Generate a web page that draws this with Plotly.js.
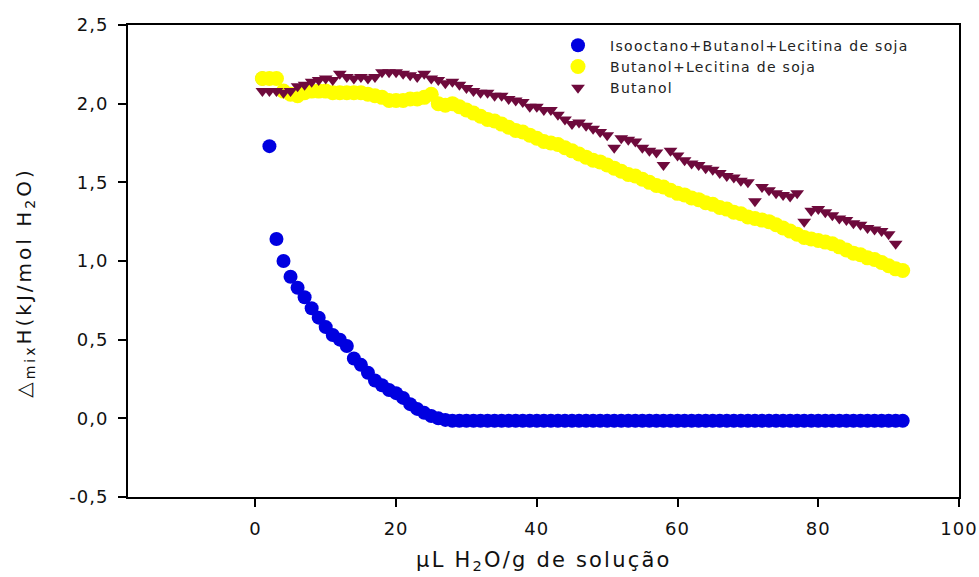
<!DOCTYPE html>
<html>
<head>
<meta charset="utf-8">
<script src="https://cdn.plot.ly/plotly-3.0.1.min.js"></script>
<style>
html,body{margin:0;padding:0;background:#fff;}
#chart{width:979px;height:577px;}
.legendtext{letter-spacing:1.3px;}
#chart .xtick text, #chart .ytick text{letter-spacing:1px;}
#chart .annotation-text{letter-spacing:2.2px;}
#chart .ytitlelike .annotation-text{letter-spacing:3px;}
</style>
</head>
<body>
<div id="chart"></div>
<script>
// x positions (µL H2O / g de solução)
const xBlue = [1,2,3,4,5,6,7,8,9,10,11,12,13,14,15,16,17,18,19,20,21,22,23,24,25,26,27,28,29,30,31,32,33,34,35,36,37,38,39,40,41,42,43,44,45,46,47,48,49,50,51,52,53,54,55,56,57,58,59,60,61,62,63,64,65,66,67,68,69,70,71,72,73,74,75,76,77,78,79,80,81,82,83,84,85,86,87,88,89,90,91,92];
const yBlue = [2.16,1.73,1.14,1.00,0.90,0.83,0.77,0.70,0.64,0.58,0.53,0.50,0.46,0.38,0.34,0.29,0.24,0.21,0.18,0.16,0.13,0.09,0.06,0.035,0.015,0.0,-0.01,-0.015,-0.015,-0.015,-0.015,-0.015,-0.015,-0.015,-0.015,-0.015,-0.015,-0.015,-0.015,-0.015,-0.015,-0.015,-0.015,-0.015,-0.015,-0.015,-0.015,-0.015,-0.015,-0.015,-0.015,-0.015,-0.015,-0.015,-0.015,-0.015,-0.015,-0.015,-0.015,-0.015,-0.015,-0.015,-0.015,-0.015,-0.015,-0.015,-0.015,-0.015,-0.015,-0.015,-0.015,-0.015,-0.015,-0.015,-0.015,-0.015,-0.015,-0.015,-0.015,-0.015,-0.015,-0.015,-0.015,-0.015,-0.015,-0.015,-0.015,-0.015,-0.015,-0.015,-0.015,-0.015];

const xYellow = [1,2,3,4,5,6,7,8,9,10,11,12,13,14,15,16,17,18,19,20,21,22,23,24,25,26,27,28,29,30,31,32,33,34,35,36,37,38,39,40,41,42,43,44,45,46,47,48,49,50,51,52,53,54,55,56,57,58,59,60,61,62,63,64,65,66,67,68,69,70,71,72,73,74,75,76,77,78,79,80,81,82,83,84,85,86,87,88,89,90,91,92];
const yYellow = [2.16,2.16,2.16,2.08,2.06,2.05,2.07,2.08,2.08,2.08,2.07,2.07,2.07,2.07,2.07,2.06,2.05,2.04,2.02,2.02,2.02,2.03,2.03,2.04,2.06,2.00,1.99,2.00,1.98,1.96,1.94,1.92,1.90,1.89,1.87,1.85,1.83,1.82,1.80,1.78,1.76,1.75,1.74,1.72,1.70,1.68,1.66,1.64,1.63,1.61,1.59,1.57,1.55,1.54,1.52,1.50,1.48,1.47,1.45,1.43,1.42,1.40,1.39,1.37,1.36,1.34,1.33,1.31,1.30,1.28,1.27,1.26,1.25,1.23,1.21,1.19,1.17,1.15,1.14,1.13,1.12,1.11,1.09,1.07,1.05,1.04,1.02,1.01,0.99,0.97,0.95,0.94];

const xButanol = [1,2,3,4,5,6,7,8,9,10,11,12,13,14,15,16,17,18,19,20,21,22,23,24,25,26,27,28,29,30,31,32,33,34,35,36,37,38,39,40,41,42,43,44,45,46,47,48,49,50,51,52,53,54,55,56,57,58,59,60,61,62,63,64,65,66,67,68,69,70,71,72,73,74,75,76,77,78,79,80,81,82,83,84,85,86,87,88,89,90,91];
const yButanol = [2.08,2.08,2.08,2.07,2.08,2.11,2.12,2.14,2.15,2.16,2.15,2.19,2.17,2.16,2.17,2.16,2.17,2.20,2.20,2.20,2.19,2.18,2.17,2.19,2.16,2.15,2.13,2.14,2.12,2.10,2.08,2.07,2.07,2.05,2.05,2.03,2.02,2.01,1.98,1.98,1.96,1.96,1.93,1.90,1.87,1.88,1.86,1.84,1.82,1.80,1.72,1.78,1.77,1.76,1.72,1.70,1.69,1.61,1.70,1.67,1.64,1.62,1.61,1.59,1.58,1.56,1.54,1.53,1.51,1.50,1.38,1.47,1.45,1.43,1.42,1.41,1.43,1.25,1.32,1.33,1.31,1.29,1.27,1.26,1.24,1.23,1.21,1.20,1.19,1.17,1.11];

const seriesNames = ['Isooctano+Butanol+Lecitina de soja','Butanol+Lecitina de soja','Butanol'];
const xTicks = [0,20,40,60,80,100];
const xTickText = ['0','20','40','60','80','100'];
const yTicks = [-0.5,0.0,0.5,1.0,1.5,2.0,2.5];
const yTickText = ['-0,5','0,0','0,5','1,0','1,5','2,0','2,5'];
const xTitle = 'μL H<sub>2</sub>O/g de solução';
const yTitle = '△<sub>mix</sub>H(kJ/mol H<sub>2</sub>O)';

const FONT = 'DejaVu Sans, Liberation Sans, Arial, sans-serif';

const traces = [
  {x:xBlue, y:yBlue, name:seriesNames[0], type:'scatter', mode:'markers',
   marker:{symbol:'circle', size:14, color:'#0000e0'}},
  {x:xYellow, y:yYellow, name:seriesNames[1], type:'scatter', mode:'markers',
   marker:{symbol:'circle', size:15, color:'#ffff00'}},
  {x:xButanol, y:yButanol, name:seriesNames[2], type:'scatter', mode:'markers',
   marker:{symbol:'triangle-down', size:12, color:'#6e0a3c'}}
];

const axisCommon = {
  showgrid:false, zeroline:false, showline:true, linecolor:'#000', linewidth:2,
  mirror:true, ticks:'outside', ticklen:8, tickwidth:2, tickcolor:'#000',
  tickfont:{size:18, family:FONT, color:'#111'}, ticklabelstandoff:6
};

const layout = {
  width:979, height:577,
  margin:{l:128, r:20, t:25, b:80},
  paper_bgcolor:'#fff', plot_bgcolor:'#fff',
  font:{family:FONT, color:'#000', size:14},
  showlegend:true,
  legend:{x:0.503, y:0.99, xanchor:'left', yanchor:'top', bgcolor:'rgba(0,0,0,0)',
          font:{size:14, color:'#222', family:FONT}, traceorder:'normal', itemwidth:54},
  xaxis:Object.assign({range:[-18.1,100], tickvals:xTicks, ticktext:xTickText}, axisCommon),
  yaxis:Object.assign({range:[-0.5,2.5], tickvals:yTicks, ticktext:yTickText}, axisCommon),
  annotations:[
    {text:xTitle, xref:'paper', yref:'paper', x:0.5, y:-0.136, xanchor:'center', yanchor:'middle',
     showarrow:false, font:{size:21, family:FONT, color:'#111'}},
    {text:yTitle, xref:'paper', yref:'paper', x:-0.124, y:0.455, xanchor:'center', yanchor:'middle',
     textangle:-90, showarrow:false, font:{size:20, family:FONT, color:'#111'}}
  ]
};

Plotly.newPlot('chart', traces, layout, {displayModeBar:false, staticPlot:true}).then(function(gd){
  // y title gets slightly wider letter spacing
  const anns = gd.querySelectorAll('.annotation');
  if (anns[1]) anns[1].classList.add('ytitlelike');
});
</script>
</body>
</html>
